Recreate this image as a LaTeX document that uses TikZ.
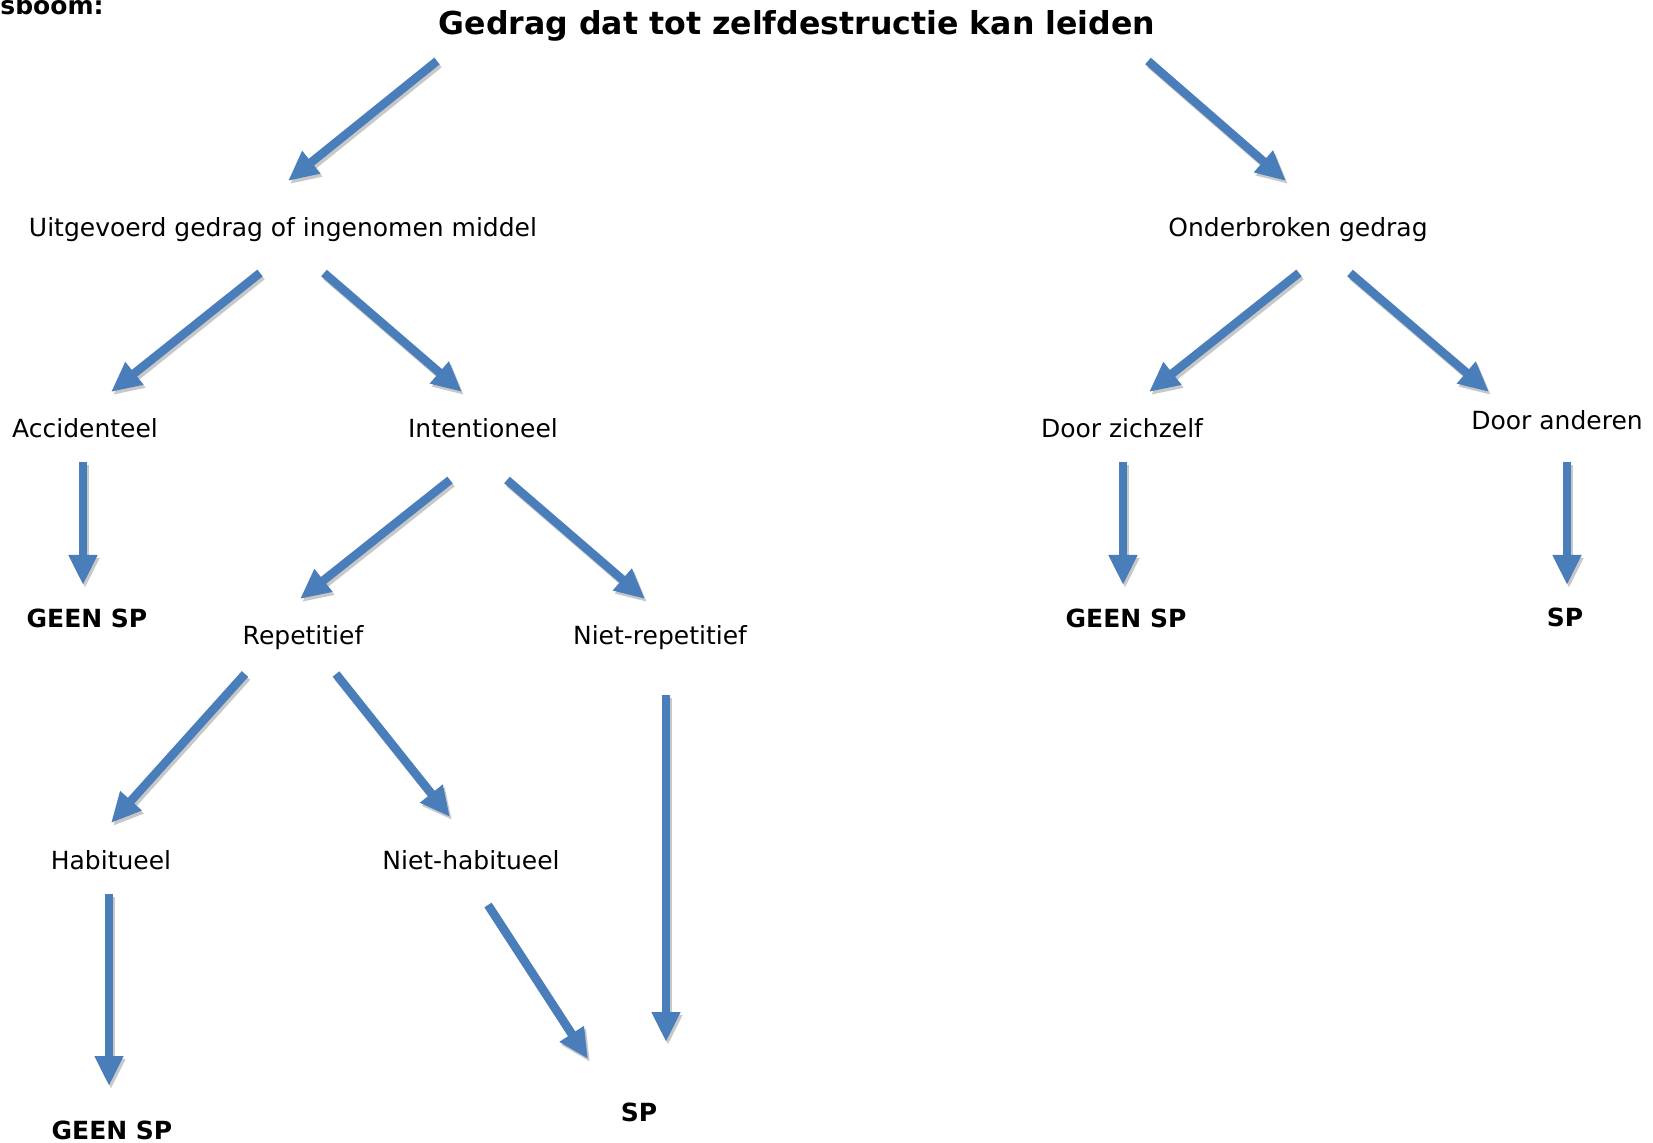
\documentclass[tikz,border=0pt]{standalone}
\usepackage{fontspec}
\setmainfont{DejaVu Sans}
\usetikzlibrary{arrows.meta}
\definecolor{arrowblue}{RGB}{74,126,187}
\definecolor{shadowgray}{RGB}{200,200,200}
\tikzset{
  lbl/.style={font=\fontsize{12.5}{15}\selectfont, inner sep=0pt, anchor=center},
  blbl/.style={font=\fontsize{12.5}{15}\selectfont\bfseries, inner sep=0pt, anchor=center},
  bluearrow/.style={draw=arrowblue, line width=4.3pt, -{Triangle[width=13.5pt,length=15pt]}},
  shadowarrow/.style={draw=shadowgray, line width=4.3pt, -{Triangle[width=13.5pt,length=15pt]}}
}
\begin{document}
\begin{tikzpicture}[x=0.5pt,y=-0.5pt]
\useasboundingbox[fill=white] (0,0) rectangle (1653,1143);
% texts
\node[font=\fontsize{12.5}{15}\selectfont\bfseries, inner sep=0pt, anchor=base west] (hdr) at (0,15) {sboom:};
\node[font=\fontsize{15.8}{18}\selectfont\bfseries, inner sep=0pt] (title) at (797,26) {Gedrag dat tot zelfdestructie kan leiden};
\node[lbl] (uit) at (283,230) {Uitgevoerd gedrag of ingenomen middel};
\node[lbl] (ond) at (1298,230) {Onderbroken gedrag};
\node[lbl] (acc) at (85,428) {Accidenteel};
\node[lbl] (int) at (483,428) {Intentioneel};
\node[lbl] (dzz) at (1122,428) {Door zichzelf};
\node[lbl] (dan) at (1557,420) {Door anderen};
\node[blbl] (g1) at (87,618) {GEEN SP};
\node[blbl] (g2) at (1126,618) {GEEN SP};
\node[blbl] (sp1) at (1565,617) {SP};
\node[lbl] (rep) at (303,638) {Repetitief};
\node[lbl] (nrep) at (660,638) {Niet-repetitief};
\node[lbl] (hab) at (111,860) {Habitueel};
\node[lbl] (nhab) at (471,860) {Niet-habitueel};
\node[blbl] (g3) at (112,1130) {GEEN SP};
\node[blbl] (sp2) at (639,1112) {SP};
% arrow end points
\coordinate (a1s) at (437,61);   \coordinate (a1e) at (288,181);
\coordinate (a2s) at (1148,61);  \coordinate (a2e) at (1286,181);
\coordinate (a3s) at (260,273);  \coordinate (a3e) at (111,392);
\coordinate (a4s) at (324,273);  \coordinate (a4e) at (462,392);
\coordinate (a5s) at (1299,273); \coordinate (a5e) at (1149,392);
\coordinate (a6s) at (1350,273); \coordinate (a6e) at (1489,392);
\coordinate (a7s) at (83,462);   \coordinate (a7e) at (83,585);
\coordinate (a8s) at (1123,462); \coordinate (a8e) at (1123,585);
\coordinate (a9s) at (1567,462); \coordinate (a9e) at (1567,585);
\coordinate (a10s) at (450,480); \coordinate (a10e) at (300,599);
\coordinate (a11s) at (507,480); \coordinate (a11e) at (645,599);
\coordinate (a12s) at (245,674); \coordinate (a12e) at (111,823);
\coordinate (a13s) at (336,674); \coordinate (a13e) at (450,817);
\coordinate (a14s) at (109,894); \coordinate (a14e) at (109,1086);
\coordinate (a15s) at (488,905); \coordinate (a15e) at (588,1059);
\coordinate (a16s) at (666,695); \coordinate (a16e) at (666,1042);
\foreach \i in {1,...,16} {
  \draw[shadowarrow] ([shift={(2,3)}]a\i s) -- ([shift={(2,3)}]a\i e);
}
\foreach \i in {1,...,16} {
  \draw[bluearrow] (a\i s) -- (a\i e);
}
\end{tikzpicture}
\end{document}
